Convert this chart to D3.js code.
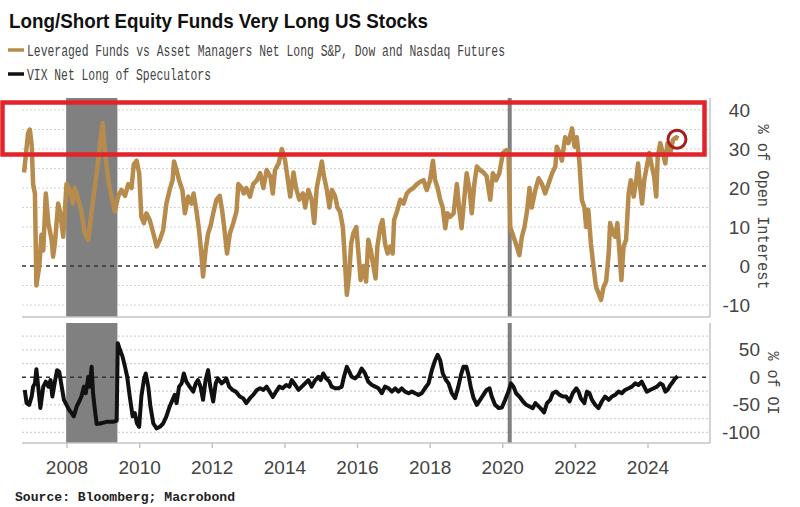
<!DOCTYPE html>
<html><head><meta charset="utf-8">
<script src="https://cdn.jsdelivr.net/npm/d3@7"></script>
<style>body{margin:0;background:#fff;} svg{display:block;}</style>
</head><body><svg id="c" width="800" height="507"></svg>
<script>
const title = "Long/Short Equity Funds Very Long US Stocks";
const seriesNames = ["Leveraged Funds vs Asset Managers Net Long S&P, Dow and Nasdaq Futures", "VIX Net Long of Speculators"];
const seriesColors = ["#b68b4c", "#111111"];
const source = "Source: Bloomberg; Macrobond";
const topAxisTitle = "% of Open Interest";
const bottomAxisTitle = "% of OI";
const yearTicks = [2008, 2010, 2012, 2014, 2016, 2018, 2020, 2022, 2024];
const topTicks = [-10, 0, 10, 20, 30, 40];
const bottomTicks = [-100, -50, 0, 50];
const topGrid = [-10, -5, 0, 5, 10, 15, 20, 25, 30, 35, 40];
const bottomGrid = [-100, -75, -50, -25, 0, 25, 50, 75];
const recessions = [[2007.99, 2009.40], [2020.15, 2020.26]];
const highlightPoint = [2024.81, 32.5];

const levYears = [2006.83,2006.94,2006.99,2007.04,2007.08,2007.13,2007.17,2007.25,2007.31,2007.36,2007.43,2007.50,2007.59,2007.63,2007.68,2007.77,2007.83,2007.91,
2008.00,2008.09,2008.17,2008.23,2008.32,2008.41,2008.50,2008.60,2008.69,2008.83,2008.92,2008.99,2009.06,2009.15,2009.24,2009.33,2009.42,2009.51,2009.61,2009.70,2009.79,2009.85,2009.93,
2010.00,2010.06,2010.13,2010.20,2010.29,2010.39,2010.48,2010.57,2010.66,2010.75,2010.84,2010.92,2010.96,2011.03,2011.10,2011.19,2011.26,2011.35,2011.44,2011.50,2011.58,2011.65,2011.72,2011.76,2011.83,2011.90,2011.96,
2012.04,2012.13,2012.22,2012.29,2012.36,2012.42,2012.50,2012.59,2012.68,2012.73,2012.82,2012.88,2012.95,2013.05,2013.14,2013.24,2013.33,2013.42,2013.51,2013.61,2013.68,2013.74,2013.84,2013.93,
2014.02,2014.08,2014.16,2014.25,2014.32,2014.41,2014.51,2014.57,2014.66,2014.75,2014.82,2014.89,2014.97,2015.03,2015.09,2015.17,2015.24,2015.31,2015.40,2015.46,2015.53,2015.61,2015.66,2015.72,2015.78,2015.84,2015.90,2015.98,
2016.04,2016.10,2016.18,2016.25,2016.31,2016.38,2016.45,2016.51,2016.56,2016.64,2016.70,2016.77,2016.84,2016.91,2016.98,2017.02,2017.10,2017.19,2017.28,2017.37,2017.46,2017.55,2017.65,2017.74,2017.83,2017.92,
2018.01,2018.09,2018.15,2018.22,2018.29,2018.36,2018.43,2018.49,2018.56,2018.66,2018.75,2018.82,2018.88,2018.95,2019.02,2019.10,2019.16,2019.23,2019.30,2019.39,2019.48,2019.57,2019.67,2019.74,2019.83,2019.92,
2020.02,2020.11,2020.17,2020.22,2020.31,2020.40,2020.47,2020.54,2020.61,2020.68,2020.75,2020.81,2020.91,2021.00,2021.09,2021.18,2021.27,2021.37,2021.46,2021.50,2021.58,2021.64,2021.73,2021.82,2021.92,2021.99,
2022.05,2022.12,2022.19,2022.26,2022.31,2022.37,2022.44,2022.51,2022.58,2022.65,2022.72,2022.79,2022.86,2022.93,2022.97,2023.05,2023.11,2023.17,2023.23,2023.28,2023.34,2023.41,2023.48,2023.54,2023.62,2023.69,2023.74,2023.80,2023.85,2023.91,2023.98,
2024.05,2024.12,2024.18,2024.24,2024.28,2024.35,2024.42,2024.49,2024.55,2024.63,2024.70,2024.79,2024.85];
const levValues = [24,34,35,31,21,18.6,-5,0,8,4,18.6,11,6.7,2.4,5.8,16,13.5,7.5,
21,19.5,16,20,17,14,8.4,6.7,14,23.8,31,36.6,29,22,17.8,14,17.8,19.5,18,21,20,26,27,
23.8,12.6,11,13.5,11.8,8.4,5,6.7,9.2,16,19.5,22,26.8,24.6,22,19.5,13.5,17.8,16,18.6,14,9.2,2.4,-2.7,4,8.4,10,
13.5,17,18,14,8.4,3.2,8.4,11,14,21,20,18.6,20,17.8,21,22,23.8,20,24.6,23,18.6,24.6,26.3,30,
27,23,17.8,24,20,17,18.6,15,19.5,17,11,20,23.8,26.8,23,19.5,15,19.5,17.8,15,14,10,2.4,-7.4,-2.7,5.8,8.4,10,
3.2,-3.6,0,-4,6.7,4,0,-3.2,5,10,11.8,5.8,3.2,5,3.2,11.8,14,17,16,18.6,19.5,20,21,21.6,22,19.5,
22,27,22,20,17,15,9.7,13.5,12.6,13.5,21,14,9.7,17,23.8,19.5,13.5,21,25.5,24.6,24,23,17,23.8,22,23.8,
29,29.7,29.3,10,7.5,5,2.8,7.5,10,14,20,15,19.5,22.5,21,18.6,21,23.8,25.5,30.6,29,27,33,31.5,35.3,30.6,
33,27,17,15,10,14.4,5.8,0,-5.3,-7,-8.7,-5.3,-4,3.2,11,8.4,7.5,11,3.2,-3.6,5,6.7,18.6,22,17.8,22,26.3,20,16,22,25.5,
29,25.5,23,17.8,28,31.5,29,26.3,31.5,29,32.3,33,32.7];

const vixYears = [2006.85,2006.90,2006.97,2007.04,2007.08,2007.13,2007.17,2007.22,2007.28,2007.36,2007.43,2007.50,2007.56,2007.61,2007.68,2007.74,2007.80,2007.86,2007.93,
2008.00,2008.07,2008.14,2008.20,2008.28,2008.35,2008.41,2008.48,2008.53,2008.60,2008.64,2008.69,2008.73,2008.78,2008.83,2008.92,2009.10,2009.28,2009.38,2009.41,2009.47,2009.54,2009.61,2009.67,2009.74,2009.82,2009.88,2009.94,
2010.00,2010.06,2010.13,2010.18,2010.25,2010.31,2010.39,2010.48,2010.57,2010.66,2010.75,2010.84,2010.92,2010.98,2011.03,2011.10,2011.17,2011.23,2011.30,2011.39,2011.49,2011.56,2011.62,2011.69,2011.76,2011.83,2011.90,2011.96,
2012.04,2012.11,2012.17,2012.27,2012.33,2012.40,2012.48,2012.57,2012.66,2012.77,2012.86,2012.95,2013.05,2013.14,2013.24,2013.33,2013.42,2013.51,2013.59,2013.68,2013.77,2013.86,2013.95,
2014.05,2014.14,2014.20,2014.30,2014.39,2014.48,2014.57,2014.66,2014.75,2014.85,2014.94,2015.00,2015.07,2015.15,2015.24,2015.30,2015.40,2015.49,2015.58,2015.64,2015.72,2015.79,2015.85,2015.95,
2016.04,2016.13,2016.22,2016.31,2016.41,2016.50,2016.59,2016.68,2016.77,2016.87,2016.96,2017.05,2017.14,2017.23,2017.32,2017.42,2017.51,2017.60,2017.69,2017.78,2017.87,2017.97,
2018.06,2018.15,2018.22,2018.29,2018.36,2018.45,2018.52,2018.61,2018.70,2018.79,2018.86,2018.93,2019.01,2019.07,2019.13,2019.21,2019.30,2019.39,2019.48,2019.57,2019.65,2019.71,2019.80,2019.90,2019.99,
2020.08,2020.17,2020.24,2020.31,2020.38,2020.47,2020.57,2020.66,2020.75,2020.84,2020.91,2021.00,2021.09,2021.15,2021.23,2021.32,2021.39,2021.48,2021.58,2021.67,2021.76,2021.85,2021.94,
2022.04,2022.10,2022.16,2022.26,2022.33,2022.40,2022.47,2022.56,2022.65,2022.74,2022.83,2022.93,2023.02,2023.11,2023.20,2023.29,2023.38,2023.48,2023.57,2023.66,2023.75,2023.84,2023.91,2023.98,
2024.07,2024.17,2024.26,2024.35,2024.42,2024.49,2024.55,2024.63,2024.70,2024.76,2024.83];
const vixValues = [-23,-47,-50,-35,-17,-11,14.5,-17,-56,-17,-8,-17,-5,-35,-8,13,10,-14,-41,
-50,-59,-65,-71,-53,-44,-35,-17,-29,1,-17,19,-29,-59,-85,-84,-81,-81,-79,62,50,38,19,1,-35,-71,-65,-84,
-90,-35,-5,7,-17,-53,-84,-93,-90,-84,-71,-53,-41,-32,-47,-17,-11,7,-8,-17,-26,-11,-5,-17,-41,-5,13,-17,
-44,-11,-2,-11,-8,-2,-17,-23,-26,-35,-38,-47,-38,-32,-23,-20,-23,-17,-26,-36,-26,-17,-20,
-14,-17,-5,-14,-23,-17,-11,-5,-17,-5,1,-5,7,-2,-8,-17,-20,-20,-17,1,19,10,1,-2,
4,16,7,-8,-14,-17,-20,-29,-17,-20,-26,-20,-26,-20,-26,-29,-26,-29,-32,-29,-20,-11,
13,31,41,31,7,-5,-11,-29,-38,-17,4,19,19,4,-17,-38,-50,-41,-32,-23,-20,-35,-50,-56,-55,
-41,-26,-11,-17,-29,-35,-44,-50,-53,-56,-47,-53,-59,-64,-47,-41,-29,-26,-32,-35,-35,-44,-29,
-20,-26,-38,-47,-26,-29,-41,-50,-56,-44,-35,-41,-35,-32,-26,-29,-23,-20,-17,-11,-14,-8,-17,-26,
-23,-20,-17,-11,-14,-26,-23,-14,-8,-2,2];

// ---------- helpers ----------
function yd(y) {
  const yr = Math.floor(y);
  const s = new Date(yr, 0, 1).getTime(), e = new Date(yr + 1, 0, 1).getTime();
  return new Date(s + (y - yr) * (e - s));
}
const svg = d3.select("#c");
const L = 22, R = 710;
const topPanel = {y0: 98, y1: 317};
const botPanel = {y0: 323, y1: 443};

const x = d3.scaleTime().domain([yd(2008), yd(2024)]).range([66.5, 647.5]);
const yTop = d3.scaleLinear().domain([-10, 40]).range([305, 110]);
const yBot = d3.scaleLinear().domain([-100, 50]).range([432.3, 349.8]);

// grids
svg.append("g").selectAll("line").data(topGrid.filter(v => v !== 0)).join("line")
  .attr("x1", L).attr("x2", R).attr("y1", d => yTop(d)).attr("y2", d => yTop(d))
  .attr("stroke", "#d2d2d2").attr("stroke-width", 1.2).attr("stroke-dasharray", "2,2");
svg.append("g").selectAll("line").data(bottomGrid.filter(v => v !== 0)).join("line")
  .attr("x1", L).attr("x2", R).attr("y1", d => yBot(d)).attr("y2", d => yBot(d))
  .attr("stroke", "#d2d2d2").attr("stroke-width", 1.2).attr("stroke-dasharray", "2,2");

// recession shading
[topPanel, botPanel].forEach(p => {
  svg.append("g").selectAll("rect").data(recessions).join("rect")
    .attr("x", d => x(yd(d[0]))).attr("width", d => x(yd(d[1])) - x(yd(d[0])))
    .attr("y", p.y0).attr("height", p.y1 - p.y0)
    .attr("fill", "#808080");
});

// zero lines
svg.append("line").attr("x1", L).attr("x2", R).attr("y1", yTop(0)).attr("y2", yTop(0))
  .attr("stroke", "#333").attr("stroke-width", 1.5).attr("stroke-dasharray", "4,4");
svg.append("line").attr("x1", L).attr("x2", R).attr("y1", yBot(0)).attr("y2", yBot(0))
  .attr("stroke", "#333").attr("stroke-width", 1.5).attr("stroke-dasharray", "4,4");

// series lines
const levData = levYears.map((y, i) => [yd(y), levValues[i]]);
const vixData = vixYears.map((y, i) => [yd(y), vixValues[i]]);
svg.append("path").datum(levData)
  .attr("d", d3.line().x(d => x(d[0])).y(d => yTop(d[1])))
  .attr("fill", "none").attr("stroke", seriesColors[0]).attr("stroke-width", 4.5)
  .attr("stroke-linejoin", "round");
svg.append("path").datum(vixData)
  .attr("d", d3.line().x(d => x(d[0])).y(d => yBot(d[1])))
  .attr("fill", "none").attr("stroke", seriesColors[1]).attr("stroke-width", 4)
  .attr("stroke-linejoin", "round");

// borders
const bc = "#c4c4c4";
svg.append("line").attr("x1", L).attr("x2", R).attr("y1", topPanel.y1).attr("y2", topPanel.y1).attr("stroke", bc).attr("stroke-width", 1.5);
svg.append("line").attr("x1", R).attr("x2", R).attr("y1", topPanel.y0).attr("y2", topPanel.y1).attr("stroke", bc).attr("stroke-width", 1.5);
svg.append("line").attr("x1", L).attr("x2", R).attr("y1", botPanel.y1).attr("y2", botPanel.y1).attr("stroke", bc).attr("stroke-width", 1.5);
svg.append("line").attr("x1", R).attr("x2", R).attr("y1", botPanel.y0).attr("y2", botPanel.y1).attr("stroke", bc).attr("stroke-width", 1.5);

// x axis
const xAxis = svg.append("g").attr("transform", `translate(0,${botPanel.y1})`)
  .call(d3.axisBottom(x).tickValues(yearTicks.map(yd)).tickFormat(d3.timeFormat("%Y")).tickSize(5).tickPadding(12.5));
xAxis.select(".domain").remove();
xAxis.selectAll(".tick line").attr("stroke", bc).attr("stroke-width", 1.5);
xAxis.selectAll("text").attr("font-family", "Liberation Sans, Arial, sans-serif").attr("font-size", 19).attr("fill", "#444");

// y axes
const ayTop = svg.append("g").attr("transform", "translate(750,0)")
  .call(d3.axisRight(yTop).tickValues(topTicks).tickSize(0).tickPadding(0).tickFormat(d3.format("d")));
ayTop.select(".domain").remove();
ayTop.selectAll("text").attr("text-anchor", "end").attr("x", 0)
  .attr("font-family", "Liberation Sans, Arial, sans-serif").attr("font-size", 19).attr("fill", "#444");
const ayBot = svg.append("g").attr("transform", "translate(760,0)")
  .call(d3.axisRight(yBot).tickValues(bottomTicks).tickSize(0).tickPadding(0).tickFormat(d3.format("d")));
ayBot.select(".domain").remove();
ayBot.selectAll("text").attr("text-anchor", "end").attr("x", 0)
  .attr("font-family", "Liberation Sans, Arial, sans-serif").attr("font-size", 19).attr("fill", "#444");
svg.selectAll(".tick text").text(function() { return this.textContent.replace("−", "-"); });

// axis titles
svg.append("text").attr("transform", "translate(758,207) rotate(90)")
  .attr("text-anchor", "middle").attr("font-family", "Liberation Mono, monospace").attr("font-size", 16)
  .attr("fill", "#444").attr("textLength", 165).attr("lengthAdjust", "spacingAndGlyphs").text(topAxisTitle);
svg.append("text").attr("transform", "translate(768,383) rotate(90)")
  .attr("text-anchor", "middle").attr("font-family", "Liberation Mono, monospace").attr("font-size", 16)
  .attr("fill", "#444").attr("textLength", 63).attr("lengthAdjust", "spacingAndGlyphs").text(bottomAxisTitle);

// title & legend
svg.append("text").attr("x", 9).attr("y", 28).attr("font-family", "Liberation Sans, Arial, sans-serif")
  .attr("font-weight", "bold").attr("font-size", 21).attr("fill", "#111")
  .attr("textLength", 419).attr("lengthAdjust", "spacingAndGlyphs").text(title);
const legY = [50, 74], legW = [478, 184];
seriesNames.forEach((n, i) => {
  svg.append("line").attr("x1", 8).attr("x2", 24).attr("y1", legY[i]).attr("y2", legY[i])
    .attr("stroke", seriesColors[i]).attr("stroke-width", 3.5);
  svg.append("text").attr("x", 27).attr("y", legY[i] + 5.5).attr("font-family", "Liberation Mono, monospace")
    .attr("font-size", 16).attr("fill", "#444").attr("textLength", legW[i]).attr("lengthAdjust", "spacingAndGlyphs").text(n);
});

// source
svg.append("text").attr("x", 15).attr("y", 501).attr("font-family", "Liberation Mono, monospace")
  .attr("font-weight", "bold").attr("font-size", 13).attr("fill", "#222")
  .attr("textLength", 220).attr("lengthAdjust", "spacingAndGlyphs").text(source);

// red annotation box & circle
svg.append("rect").attr("x", 2.5).attr("y", 102.5).attr("width", 702).attr("height", 52)
  .attr("fill", "none").attr("stroke", "#e2232a").attr("stroke-width", 4.5);
svg.append("circle").attr("cx", x(yd(highlightPoint[0]))).attr("cy", yTop(highlightPoint[1])).attr("r", 9)
  .attr("fill", "none").attr("stroke", "#a81c1f").attr("stroke-width", 3);
</script></body></html>
